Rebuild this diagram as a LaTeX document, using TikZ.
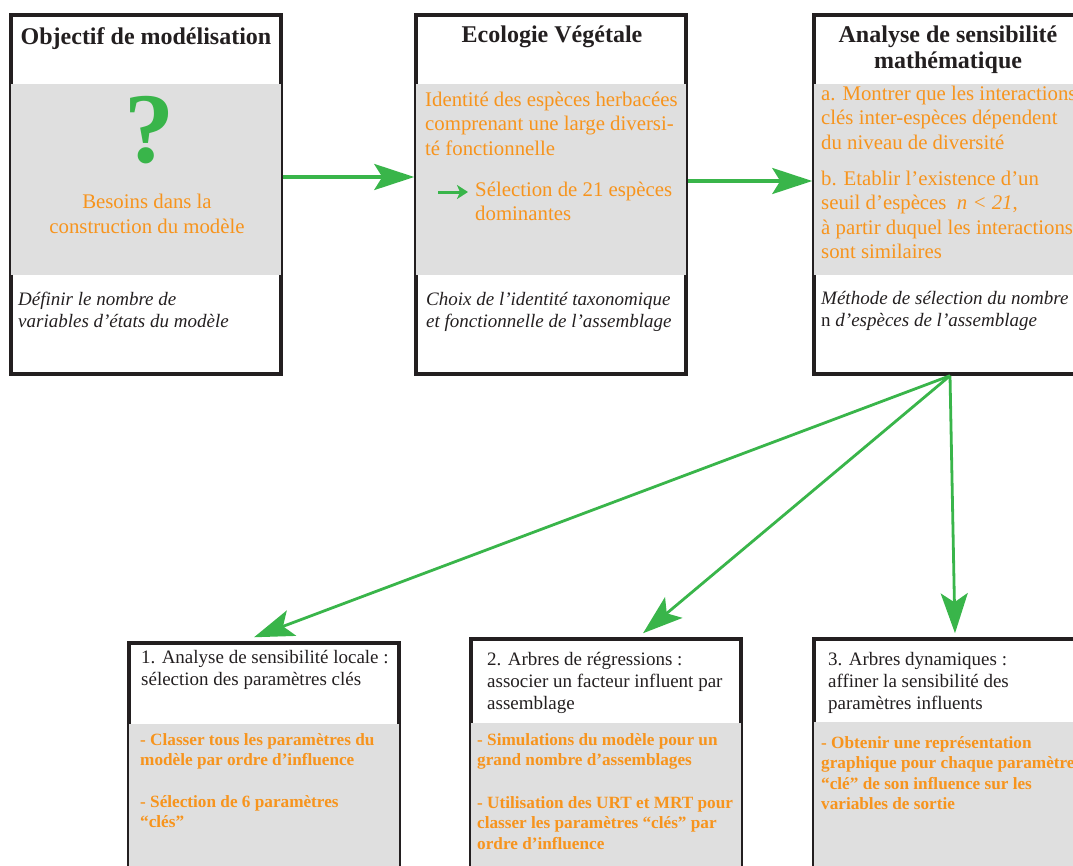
\documentclass[tikz,border=0pt]{standalone}
\usepackage{fontspec}
\setmainfont{Liberation Serif}
\usetikzlibrary{arrows.meta}

\definecolor{boxline}{HTML}{231F20}
\definecolor{bandgray}{HTML}{DFDFDF}
\definecolor{txtorange}{HTML}{F7941D}
\definecolor{arrowgreen}{HTML}{39B54A}

\tikzstyle{box} = [rectangle, draw=boxline, line width=3.5pt, minimum width=270pt, minimum height=359pt]
\tikzstyle{lowbox} = [rectangle, draw=boxline, line width=3.5pt, minimum width=270pt, minimum height=261pt]
\tikzstyle{title} = [anchor=base, align=center, inner sep=0pt, text=boxline, font=\bfseries\fontsize{24}{26}\selectfont]
\tikzstyle{info} = [anchor=base west, align=left, inner sep=0pt, text=txtorange, font=\fontsize{20.8}{24.5}\selectfont]
\tikzstyle{method} = [anchor=base west, align=left, inner sep=0pt, text=boxline, font=\itshape\fontsize{19}{22}\selectfont]
\tikzstyle{stage} = [anchor=base west, align=left, inner sep=0pt, text=boxline, font=\fontsize{19}{22}\selectfont]
\tikzstyle{task} = [anchor=base west, align=left, inner sep=0pt, text=txtorange, font=\bfseries\fontsize{17.2}{20.5}\selectfont]
\tikzstyle{arrow} = [line width=3.5pt, draw=arrowgreen, -{Stealth[length=40pt, width=26pt, inset=8pt]}]
\tikzstyle{fanarrow} = [line width=2.8pt, draw=arrowgreen, -{Stealth[length=40pt, width=27pt, inset=9pt]}]
\tikzstyle{smallarrow} = [line width=3pt, draw=arrowgreen, -{Stealth[length=11pt, width=14pt, inset=3pt]}]

\begin{document}
\begin{tikzpicture}[x=1pt, y=-1pt]
	\useasboundingbox (0,0) rectangle (1073,865);
	\clip (0,0) rectangle (1073,865);

	% boxes
	\node (n0) [box] at (146,194.5) {};
	\node (n1) [box] at (551,194.5) {};
	\node (n2) [box] at (949,194.5) {};
	\node (n3) [lowbox] at (264,773.5) {};
	\node (n4) [lowbox] at (606,769.5) {};
	\node (n5) [lowbox] at (949,769.5) {};

	% gray bands
	\fill [bandgray] ([xshift=1.75pt]n0.west |- 0,84) rectangle ([xshift=-1.75pt]n0.east |- 0,275);
	\fill [bandgray] ([xshift=1.75pt]n1.west |- 0,84) rectangle ([xshift=-1.75pt]n1.east |- 0,275);
	\fill [bandgray] ([xshift=1.75pt]n2.west |- 0,84) rectangle ([xshift=-1.75pt]n2.east |- 0,275);
	\fill [bandgray] ([xshift=1.75pt]n3.west |- 0,724) rectangle ([xshift=-1.75pt]n3.east |- 0,900);
	\fill [bandgray] ([xshift=1.75pt]n4.west |- 0,723) rectangle ([xshift=-1.75pt]n4.east |- 0,900);
	\fill [bandgray] ([xshift=1.75pt]n5.west |- 0,722) rectangle ([xshift=-1.75pt]n5.east |- 0,900);

	% top row (multi-line texts sit on their last baseline)
	\node (t0) [title] at (146,44) {Objectif de modélisation};
	\node (q0) [anchor=base, inner sep=0pt, text=arrowgreen, font=\bfseries\fontsize{100}{100}\selectfont] at (149,162) {?};
	\node (t1) [info, anchor=base, align=center] at (147,233) {Besoins dans la\\construction du modèle};
	\node (t2) [method] at (18,327) {Définir le nombre de\\variables d’états du modèle};

	\node (t3) [title] at (552,42) {Ecologie Végétale};
	\node (t4) [info] at (425,155) {Identité des espèces herbacées\\comprenant une large diversi-\\té fonctionnelle};
	\node (t5) [info] at (475,220.5) {Sélection de 21 espèces\\dominantes};
	\coordinate (a0) at (438,192);
	\coordinate (a1) at (468,192);
	\node (t6) [method] at (426,327) {Choix de l’identité taxonomique\\et fonctionnelle de l’assemblage};

	\node (t7) [title] at (948,68) {Analyse de sensibilité\\mathématique};
	\node (t8) [info] at (821,149) {a. Montrer que les interactions\\clés inter-espèces dépendent\\du niveau de diversité};
	\node (t9) [info] at (821,258.5) {b. Etablir l’existence d’un\\seuil d’espèces\ \ \textit{n < 21},\\à partir duquel les interactions\\sont similaires};
	\node (t10) [method] at (821,326) {Méthode de sélection du nombre\\{\upshape n} d’espèces de l’assemblage};

	% bottom row
	\node (t11) [stage] at (141,685) {1. Analyse de sensibilité locale :\\sélection des paramètres clés};
	\node (t12) [task] at (140,765.5) {- Classer tous les paramètres du\\modèle par ordre d’influence};
	\node (t13) [task] at (140,827.5) {- Sélection de 6 paramètres\\“clés”};

	\node (t14) [stage] at (487,709) {2. Arbres de régressions :\\associer un facteur influent par\\assemblage};
	\node (t15) [task] at (477,765.5) {- Simulations du modèle pour un\\grand nombre d’assemblages};
	\node (t16) [task] at (477,849) {- Utilisation des URT et MRT pour\\classer les paramètres “clés” par\\ordre d’influence};

	\node (t17) [stage] at (828,709) {3. Arbres dynamiques :\\affiner la sensibilité des\\paramètres influents};
	\node (t18) [task] at (821,809.5) {- Obtenir une représentation\\graphique pour chaque paramètre\\“clé” de son influence sur les\\variables de sortie};

	% arrows
	\draw [arrow] ([yshift=17.5pt]n0.east) -- ([yshift=17.5pt]n1.west);
	\draw [arrow] ([yshift=13.5pt]n1.east) -- ([yshift=13.5pt]n2.west);
	\draw [smallarrow] (a0) -- (a1);

	\draw [fanarrow] ([xshift=1pt]n2.south) -- ([xshift=-10pt, yshift=4pt]n3.north);
	\draw [fanarrow] ([xshift=1pt]n2.south) -- ([xshift=37pt, yshift=4pt]n4.north);
	\draw [fanarrow] ([xshift=1pt]n2.south) -- ([xshift=6pt, yshift=4pt]n5.north);
\end{tikzpicture}
\end{document}
